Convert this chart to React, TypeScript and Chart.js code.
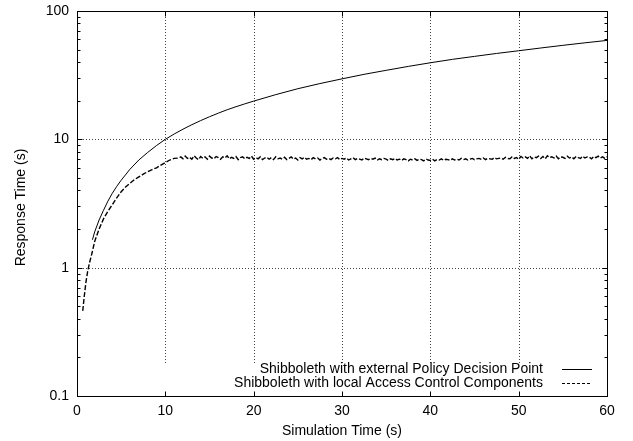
import React, { useEffect, useRef } from 'react';
import { Chart, registerables } from 'chart.js';

Chart.register(...registerables);

const FONT = '"Liberation Sans", Arial, Helvetica, sans-serif';

// Series 1: Shibboleth with external Policy Decision Point
const extTime = [1.75, 2, 2.5, 3, 3.5, 4, 4.5, 5, 6, 7, 8, 9, 10, 11, 12, 13, 14, 15, 16, 17, 18, 19, 20,
  22.5, 25, 27.5, 30, 32.5, 35, 37.5, 40, 42.5, 45, 47.5, 50, 52.5, 55, 57.5, 60];
const extResponse = [1.65, 1.9, 2.35, 2.8, 3.3, 3.8, 4.3, 4.8, 5.85, 6.9, 7.9, 8.95, 10, 11, 12, 13, 14, 15, 16, 17, 17.95, 18.9, 19.85,
  22.3, 24.8, 27.2, 29.6, 32.1, 34.5, 37, 39.5, 42, 44.3, 46.7, 49, 51.5, 54, 56.5, 59];

// Series 2: Shibboleth with local Access Control Components
const localTime = [0.65, 0.8, 1, 1.2, 1.4, 1.7, 2, 2.5, 3, 3.5, 4, 4.5, 5, 5.5, 6, 6.5, 7, 7.5, 8, 8.5, 9, 9.5, 10, 10.5, 11,
  11.5, 11.75,
  12, 12.25, 12.5, 12.75, 13, 13.25, 13.5, 13.75, 14, 14.25, 14.5, 14.75, 15, 15.25, 15.5, 15.75,
  16, 16.25, 16.5, 16.75, 17, 17.25, 17.5, 17.75, 18, 18.25, 18.5, 18.75, 19, 19.25, 19.5, 19.75,
  20, 20.25, 20.5, 20.75, 21, 21.25, 21.5, 21.75, 22, 22.25, 22.5, 22.75, 23, 23.25, 23.5, 23.75,
  24, 24.25, 24.5, 24.75, 25, 25.25, 25.5, 25.75, 26, 26.25, 26.5, 26.75, 27, 27.25, 27.5, 27.75,
  28, 28.25, 28.5, 28.75, 29, 29.25, 29.5, 29.75, 30, 30.25, 30.5, 30.75, 31, 31.25, 31.5, 31.75,
  32, 32.25, 32.5, 32.75, 33, 33.25, 33.5, 33.75, 34, 34.25, 34.5, 34.75, 35, 35.25, 35.5, 35.75,
  36, 36.25, 36.5, 36.75, 37, 37.25, 37.5, 37.75, 38, 38.25, 38.5, 38.75, 39, 39.25, 39.5, 39.75,
  40, 40.25, 40.5, 40.75, 41, 41.25, 41.5, 41.75, 42, 42.25, 42.5, 42.75, 43, 43.25, 43.5, 43.75,
  44, 44.25, 44.5, 44.75, 45, 45.25, 45.5, 45.75, 46, 46.25, 46.5, 46.75, 47, 47.25, 47.5, 47.75,
  48, 48.25, 48.5, 48.75, 49, 49.25, 49.5, 49.75, 50, 50.25, 50.5, 50.75, 51, 51.25, 51.5, 51.75,
  52, 52.25, 52.5, 52.75, 53, 53.25, 53.5, 53.75, 54, 54.25, 54.5, 54.75, 55, 55.25, 55.5, 55.75,
  56, 56.25, 56.5, 56.75, 57, 57.25, 57.5, 57.75, 58, 58.25, 58.5, 58.75, 59, 59.25, 59.5, 59.75,
  60];
const localResponse = [0.46, 0.58, 0.76, 0.93, 1.08, 1.3, 1.6, 2.0, 2.4, 2.75, 3.1, 3.5, 3.9, 4.25, 4.55, 4.85, 5.1, 5.35, 5.6, 5.8, 6.0, 6.3, 6.6, 6.9, 7.1,
  7.15, 7.3,
  7.05, 7.4, 7.1, 7.25, 7.0, 7.45, 7.15, 6.95, 7.35, 7.1, 7.3, 7.0, 7.4, 7.15, 7.05, 7.35,
  7.2, 7.0, 7.3, 7.15, 7.45, 7.05, 7.25, 7.1, 7.35, 6.95, 7.2, 7.3, 7.05, 7.25, 7.1, 7.4,
  7.0, 7.2, 7.05, 7.3, 6.95, 7.15, 7.25, 7.0, 7.2, 6.95, 7.3, 7.05, 7.15, 7.0, 7.25, 6.95,
  7.1, 7.3, 7.0, 7.15, 6.9, 7.2, 7.05, 7.25, 7.0, 7.1, 6.95, 7.2, 7.05, 7.15, 6.9, 7.1,
  7.2, 7.0, 7.1, 6.95, 7.15, 7.05, 7.2, 6.95, 7.1, 7.0, 7.15, 6.9, 7.05, 7.2, 6.95, 7.1,
  7.0, 6.9, 7.15, 7.05, 6.95, 7.1, 7.0, 7.15, 6.9, 7.05, 6.95, 7.1, 7.0, 6.85, 7.05, 6.95,
  7.1, 6.9, 7.0, 6.85, 7.05, 6.95, 6.8, 7.0, 6.9, 7.05, 6.85, 7.0, 6.95, 6.8, 7.05, 6.9,
  6.85, 7.0, 6.8, 6.95, 6.9, 7.05, 6.85, 7.0, 6.95, 6.85, 7.05, 6.9, 7.0, 6.9, 7.1, 6.95,
  7.05, 6.9, 7.0, 7.1, 6.95, 7.05, 7.1, 7.0, 7.15, 6.95, 7.1, 7.05, 7.0, 7.2, 7.05, 7.1,
  7.15, 7.0, 7.25, 7.1, 7.05, 7.3, 7.1, 7.2, 7.0, 7.35, 7.15, 7.3, 7.1, 7.45, 7.05, 7.3,
  7.2, 7.4, 7.1, 7.35, 7.05, 7.45, 7.2, 7.3, 7.15, 7.4, 7.05, 7.3, 7.25, 7.1, 7.4, 7.15,
  7.3, 7.05, 7.35, 7.2, 7.1, 7.4, 7.15, 7.3, 7.25, 7.05, 7.35, 7.2, 7.4, 7.15, 7.3, 7.1,
  7.3];

const seriesLabels = [
  'Shibboleth with external Policy Decision Point',
  'Shibboleth with local Access Control Components',
];

const yTicks = [0.1, 1, 10, 100];
const yMinorMultiples = [2, 3, 4, 5, 6, 7, 8, 9];
const xTicks = [0, 10, 20, 30, 40, 50, 60];
const gridX = [10, 20, 30, 40, 50];
const gridY = [1, 10];
const gridXBottom = 0.18;

const xTitle = 'Simulation Time (s)';
const yTitle = 'Response Time (s)';

const framePlugin = {
  id: 'gnuplotFrame',
  beforeDatasetsDraw(chart: any) {
    const { ctx, chartArea: a, scales } = chart;
    const x = scales.x, y = scales.y;
    ctx.save();
    ctx.strokeStyle = '#444';
    ctx.lineWidth = 1;
    ctx.setLineDash([1, 2]);
    for (const v of gridX) {
      const px = Math.round(x.getPixelForValue(v)) + 0.5;
      ctx.beginPath();
      ctx.moveTo(px, a.top);
      ctx.lineTo(px, y.getPixelForValue(gridXBottom));
      ctx.stroke();
    }
    for (const v of gridY) {
      const py = Math.round(y.getPixelForValue(v)) + 0.5;
      ctx.beginPath();
      ctx.moveTo(a.left, py);
      ctx.lineTo(a.right, py);
      ctx.stroke();
    }
    ctx.restore();
  },
  afterDatasetsDraw(chart: any) {
    const { ctx, chartArea: a, scales } = chart;
    const x = scales.x, y = scales.y;
    ctx.save();
    ctx.strokeStyle = '#000';
    ctx.lineWidth = 1;
    ctx.setLineDash([]);
    const L = Math.round(a.left) + 0.5;
    const R = Math.round(a.right) + 0.5;
    const T = Math.round(a.top) + 0.5;
    const B = Math.round(a.bottom) + 0.5;
    ctx.strokeRect(L, T, R - L, B - T);
    const major = 5, minor = 3;
    ctx.beginPath();
    for (const v of xTicks) {
      const px = Math.round(x.getPixelForValue(v)) + 0.5;
      ctx.moveTo(px, B); ctx.lineTo(px, B - major);
      ctx.moveTo(px, T); ctx.lineTo(px, T + major);
    }
    for (const v of yTicks) {
      const py = Math.round(y.getPixelForValue(v)) + 0.5;
      ctx.moveTo(L, py); ctx.lineTo(L + major, py);
      ctx.moveTo(R, py); ctx.lineTo(R - major, py);
    }
    for (let k = 0; k < yTicks.length - 1; k++) {
      for (const m of yMinorMultiples) {
        const py = Math.round(y.getPixelForValue(yTicks[k] * m)) + 0.5;
        ctx.moveTo(L, py); ctx.lineTo(L + minor, py);
        ctx.moveTo(R, py); ctx.lineTo(R - minor, py);
      }
    }
    ctx.stroke();
    ctx.restore();
  },
  afterDraw(chart: any) {
    const { ctx, chartArea: a } = chart;
    ctx.save();
    ctx.fillStyle = '#000';
    ctx.font = `14px ${FONT}`;
    ctx.textAlign = 'center';
    ctx.textBaseline = 'middle';
    ctx.fillText(xTitle, (a.left + a.right) / 2, 431);
    ctx.save();
    ctx.translate(21, (a.top + a.bottom) / 2 + 4);
    ctx.rotate(-Math.PI / 2);
    ctx.fillText(yTitle, 0, 0);
    ctx.restore();
    const rows = [369, 383];
    ctx.textAlign = 'right';
    ctx.strokeStyle = '#000';
    ctx.lineWidth = 1;
    chart.data.datasets.forEach((ds: any, i: number) => {
      ctx.fillText(ds.label, 543, rows[i]);
      ctx.setLineDash(i === 0 ? [] : [3, 2]);
      ctx.beginPath();
      ctx.moveTo(562, rows[i] + 0.5);
      ctx.lineTo(592, rows[i] + 0.5);
      ctx.stroke();
    });
    ctx.restore();
  },
};

export default function App() {
  const ref = useRef<HTMLCanvasElement>(null);
  useEffect(() => {
    if (!ref.current) return;
    const chart = new Chart(ref.current, {
      type: 'scatter',
      data: {
        datasets: [
          {
            label: seriesLabels[0],
            data: extTime.map((t, i) => ({ x: t, y: extResponse[i] })),
            showLine: true,
            borderColor: '#000',
            borderWidth: 1,
            pointRadius: 0,
            tension: 0,
          },
          {
            label: seriesLabels[1],
            data: localTime.map((t, i) => ({ x: t, y: localResponse[i] })),
            showLine: true,
            borderColor: '#000',
            borderWidth: 1.4,
            borderDash: [5, 2],
            pointRadius: 0,
            tension: 0,
          },
        ],
      },
      options: {
        responsive: false,
        animation: false,
        events: [],
        layout: { autoPadding: false, padding: { left: 0, right: 26, top: 11, bottom: 0 } },
        plugins: {
          legend: { display: false },
          tooltip: { enabled: false },
        },
        scales: {
          x: {
            type: 'linear',
            min: 0,
            max: 60,
            grid: { display: false, drawTicks: false },
            border: { display: false },
            afterBuildTicks: (s: any) => { s.ticks = xTicks.map((v) => ({ value: v })); },
            ticks: { padding: 7, color: '#000', font: { family: FONT, size: 14 }, maxRotation: 0 },
            afterFit: (s: any) => {
              s.height = 45;
              s.paddingLeft = 0; s.paddingRight = 0; s.paddingTop = 0; s.paddingBottom = 0;
            },
          },
          y: {
            type: 'logarithmic',
            min: 0.1,
            max: 100,
            grid: { display: false, drawTicks: false },
            border: { display: false },
            afterBuildTicks: (s: any) => { s.ticks = yTicks.map((v) => ({ value: v })); },
            ticks: {
              padding: 8,
              color: '#000',
              font: { family: FONT, size: 14 },
              callback: (v: any) => String(v),
            },
            afterFit: (s: any) => {
              s.width = 77;
              s.paddingLeft = 0; s.paddingRight = 0; s.paddingTop = 0; s.paddingBottom = 0;
            },
          },
        },
      } as any,
      plugins: [framePlugin],
    });
    return () => chart.destroy();
  }, []);
  return (
    <canvas
      ref={ref}
      width={633}
      height={441}
      style={{ position: 'absolute', left: 0, top: 0, background: '#fff' }}
    />
  );
}
